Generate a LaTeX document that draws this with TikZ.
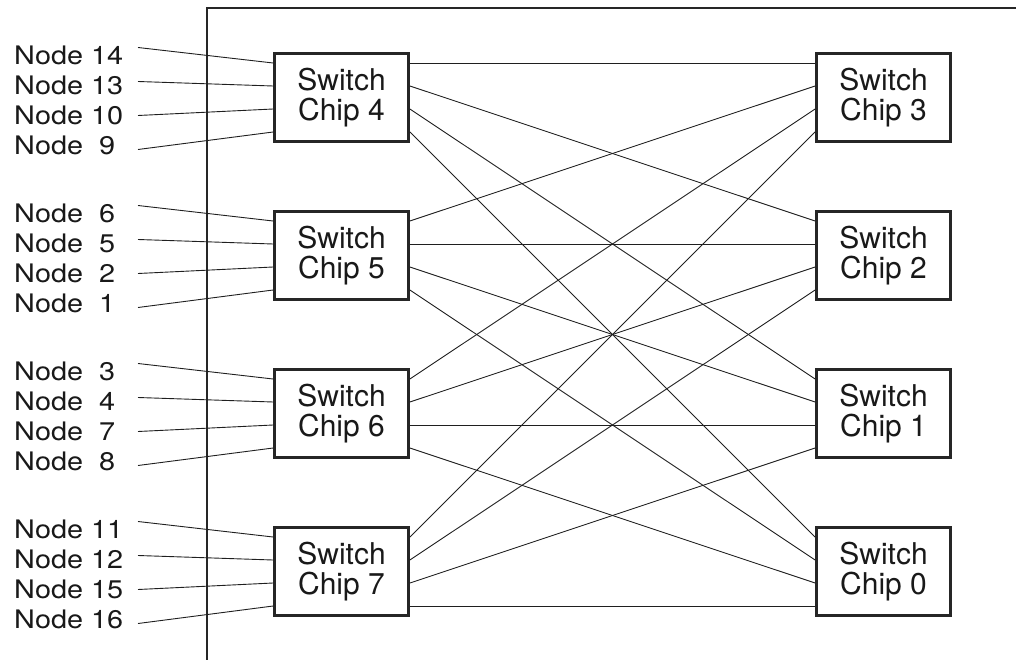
\documentclass[tikz,border=0pt]{standalone}
\usepackage{fontspec}
\setmainfont{TeX Gyre Heros}
\usetikzlibrary{positioning}

\begin{document}
\begin{tikzpicture}[x=1pt, y=-1pt, node distance=158pt]
        \tikzstyle{chip} = [rectangle, minimum width=134pt, minimum height=88pt, inner sep=0pt, align=center, draw=black!85, line width=2.8pt, text=black!90, font=\fontsize{30}{30}\selectfont]
        \tikzstyle{nodelabel} = [anchor=west, inner sep=0pt, text=black!90, font=\fontsize{25.5}{26}\selectfont]
        \tikzstyle{link} = [line width=0.9pt, draw=black!88]
        \tikzstyle{frame} = [line width=2.4pt, draw=black!85]

        \useasboundingbox (0,0) rectangle (1016,660);
        \draw [frame] (207,660) -- (207,8) -- (1016,8);
        \coordinate (lx) at (14,0);
        \coordinate (ls) at (138,0);

        \node (c4) [chip] at (341.5,97.5) {Switch\\Chip 4};
        \node (c5) [chip, below of=c4] {Switch\\Chip 5};
        \node (c6) [chip, below of=c5] {Switch\\Chip 6};
        \node (c7) [chip, below of=c6] {Switch\\Chip 7};
        \node (c3) [chip, right of=c4, xshift=384pt] {Switch\\Chip 3};
        \node (c2) [chip, below of=c3] {Switch\\Chip 2};
        \node (c1) [chip, below of=c2] {Switch\\Chip 1};
        \node (c0) [chip, below of=c1] {Switch\\Chip 0};

        % ports on both sides of every chip
        \foreach \c in {4,5,6,7,3,2,1,0}
            \foreach \k in {0,...,3} {
                \path (c\c.west) ++(0,{(\k-1.5)*23}) coordinate (c\c-w\k);
                \path (c\c.east) ++(0,{(\k-1.5)*23}) coordinate (c\c-e\k);
            }

        % node labels on the left
        \foreach \c/\list in {4/{14,13,10,9}, 5/{6,5,2,1}, 6/{3,4,7,8}, 7/{11,12,15,16}}
            \foreach \n [count=\k from 0] in \list {
                \path (c\c.center -| lx) ++(0,{(\k-1.5)*30+2.5}) node (n\n) [nodelabel] {\scalebox{1.13}[1]{Node \ifnum\n<10\ \fi\n}};
                \path (c\c.center -| ls) ++(0,{(\k-1.5)*34+1}) coordinate (s\n);
                \draw [link] (s\n) -- (c\c-w\k);
            }

        % every left chip to every right chip
        \foreach \l [count=\i from 0] in {4,5,6,7}
            \foreach \r [count=\j from 0] in {3,2,1,0}
                \draw [link] (c\l-e\j) -- (c\r-w\i);
    \end{tikzpicture}
\end{document}
